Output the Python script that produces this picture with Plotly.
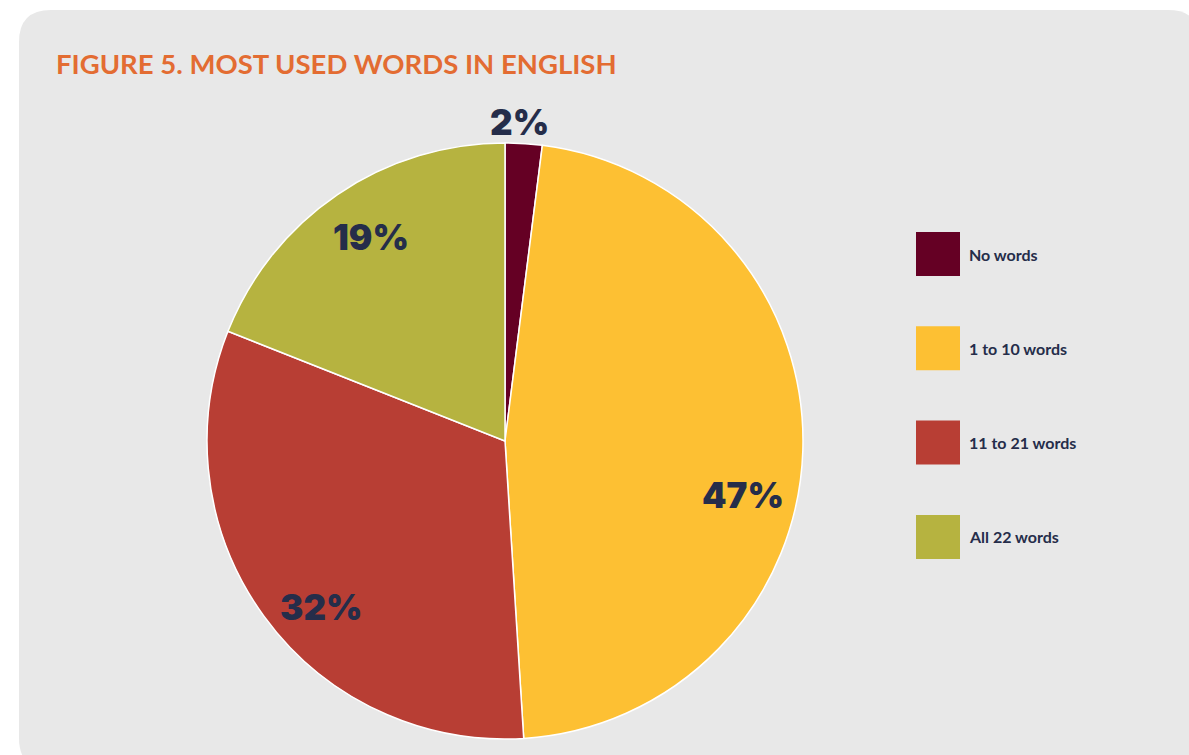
import math
import plotly.graph_objects as go

# --- data ---------------------------------------------------------------
categories = ["No words", "1 to 10 words", "11 to 21 words", "All 22 words"]
shares = [2, 47, 32, 19]
colors = ["#650024", "#fdc033", "#b83e34", "#b6b340"]
title_text = "FIGURE 5. MOST USED WORDS IN ENGLISH"

# --- layout constants (pixels) ------------------------------------------
W, H = 1189, 755
CX, CY, R = 505, 441, 298
LABEL_RADIUS = [1.07, 0.82, 0.83, 0.82]     # radial position of % labels (fraction of R)
LABEL_NUDGE = [-1, 11, -6, 1]               # angular nudge of % labels (degrees)
NAVY = "#252d4a"


def px(x):
    return x / W


def py(y):
    return 1 - y / H


fig = go.Figure()

fig.add_trace(go.Pie(
    labels=categories,
    values=shares,
    marker=dict(colors=colors, line=dict(color="white", width=1.5)),
    sort=False,
    direction="clockwise",
    rotation=0,
    textinfo="none",
    hoverinfo="label+percent",
    showlegend=False,
    domain=dict(x=[px(CX - R), px(CX + R)], y=[py(CY + R), py(CY - R)]),
))

# Rounded grey panel behind everything
x0, y0, x1, y1, rad = 19, 10, 1200, 770, 32
rx, ry = rad / W, rad / H
panel = (
    f"M {px(x0) + rx},{py(y0)} L {px(x1) - rx},{py(y0)} "
    f"Q {px(x1)},{py(y0)} {px(x1)},{py(y0) - ry} "
    f"L {px(x1)},{py(y1) + ry} Q {px(x1)},{py(y1)} {px(x1) - rx},{py(y1)} "
    f"L {px(x0) + rx},{py(y1)} Q {px(x0)},{py(y1)} {px(x0)},{py(y1) + ry} "
    f"L {px(x0)},{py(y0) - ry} Q {px(x0)},{py(y0)} {px(x0) + rx},{py(y0)} Z"
)
fig.add_shape(type="path", path=panel, xref="paper", yref="paper",
              fillcolor="#e8e8e8", line=dict(width=0), layer="below")

# Percentage labels placed around each slice's mid-angle
total = sum(shares)
cum = 0
for i, v in enumerate(shares):
    mid = (cum + v / 2) / total
    cum += v
    theta = math.radians(mid * 360 + LABEL_NUDGE[i])
    r = R * LABEL_RADIUS[i]
    lx = CX + r * math.sin(theta)
    ly = CY - r * math.cos(theta)
    fig.add_annotation(
        x=px(lx), y=py(ly), xref="paper", yref="paper",
        text=f"{round(v / total * 100)}%", showarrow=False,
        xanchor="center", yanchor="middle",
        font=dict(family="Inter", size=35, color=NAVY, weight=900),
    )

# Custom legend with large square swatches
LEG_X, LEG_Y0, LEG_STEP, SW = 916, 232, 94.3, 44
for i, (cat, col) in enumerate(zip(categories, colors)):
    top = LEG_Y0 + i * LEG_STEP
    fig.add_shape(type="rect", xref="paper", yref="paper",
                  x0=px(LEG_X), x1=px(LEG_X + SW), y0=py(top + SW), y1=py(top),
                  fillcolor=col, line=dict(width=0))
    fig.add_annotation(
        x=px(LEG_X + SW + 7), y=py(top + SW / 2), xref="paper", yref="paper",
        text=cat, showarrow=False, xanchor="left", yanchor="middle",
        font=dict(family="Lato", size=16, color=NAVY, weight=700),
    )

# Title
fig.add_annotation(
    x=px(54), y=py(64), xref="paper", yref="paper",
    text=title_text, showarrow=False, xanchor="left", yanchor="middle",
    font=dict(family="Lato", size=27.5, color="#e36c32", weight=700),
)

fig.update_layout(
    width=W, height=H,
    margin=dict(l=0, r=0, t=0, b=0),
    paper_bgcolor="white",
    plot_bgcolor="white",
)

fig.write_html("out.html")
